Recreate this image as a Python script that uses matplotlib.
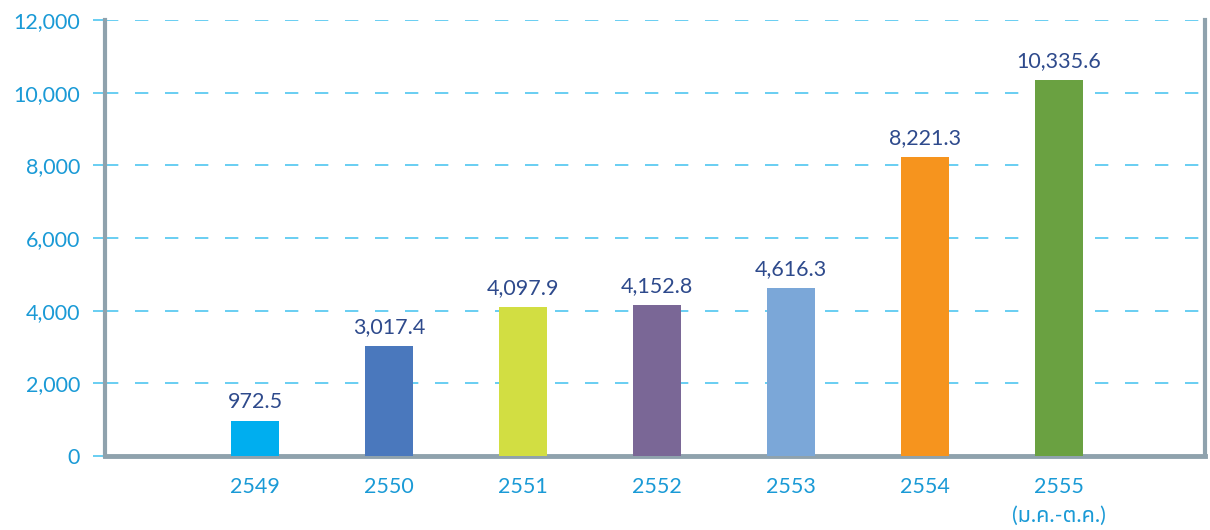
import matplotlib
matplotlib.use("Agg")
import matplotlib.pyplot as plt

years = ["2549", "2550", "2551", "2552", "2553", "2554", "2555\n(ม.ค.-ต.ค.)"]
values = [972.5, 3017.4, 4097.9, 4152.8, 4616.3, 8221.3, 10335.6]
labels = ["972.5", "3,017.4", "4,097.9", "4,152.8", "4,616.3", "8,221.3", "10,335.6"]
colors = ["#00aeef", "#4a78bd", "#d2de42", "#7a6796", "#7ba7d8", "#f6941e", "#6aa141"]
yticks = [0, 2000, 4000, 6000, 8000, 10000, 12000]

fams = ["Lato", "Noto Sans Thai", "Noto Sans Thai Looped", "Noto Serif Thai", "Loma", "Garuda",
        "Norasi", "Kinnari", "Waree", "Umpush", "Sawasdee", "Tlwg Typist", "Laksaman", "Sarabun",
        "Tahoma", "Leelawadee UI", "FreeSans", "FreeSerif", "Arial Unicode MS", "Unifont",
        "DejaVu Sans", "Noto Sans"]
plt.rcParams["font.family"] = fams

fig = plt.figure(figsize=(12.1, 5.3), dpi=100)
ax = fig.add_axes([105/1210, (530-456)/530, 1100/1210, (456-20)/530])

x = list(range(1, len(values) + 1))
ax.bar(x, values, width=0.36, color=colors, zorder=3)
for xi, v, t in zip(x, values, labels):
    ax.text(xi, v + 250, t, ha="center", va="bottom", fontsize=15.5, color="#2e4a8c", zorder=4)

ax.set_xlim(-0.12, 8.09)
ax.set_ylim(0, 12000)
ax.set_yticks(yticks)
ax.set_yticklabels([f"{v:,}" for v in yticks])
ax.set_xticks(x)
ax.set_xticklabels(years, linespacing=1.55)

ax.grid(axis="y", color="#4fc6f0", linestyle=(0, (8, 10)), linewidth=1.2, zorder=1)
ax.tick_params(axis="y", length=9, width=1.2, color="#4fc6f0", labelcolor="#1a9ad6", labelsize=15.5, pad=9)
ax.tick_params(axis="x", length=0, labelcolor="#1a9ad6", labelsize=15.5, pad=15)

for s in ["left", "right", "bottom"]:
    ax.spines[s].set_color("#8fa2ad")
    ax.spines[s].set_linewidth(3)
ax.spines["bottom"].set_linewidth(3.5)
ax.spines["top"].set_visible(False)
ax.spines["left"].set_bounds(0, 12000)

fig.savefig("out.png", dpi=100)
